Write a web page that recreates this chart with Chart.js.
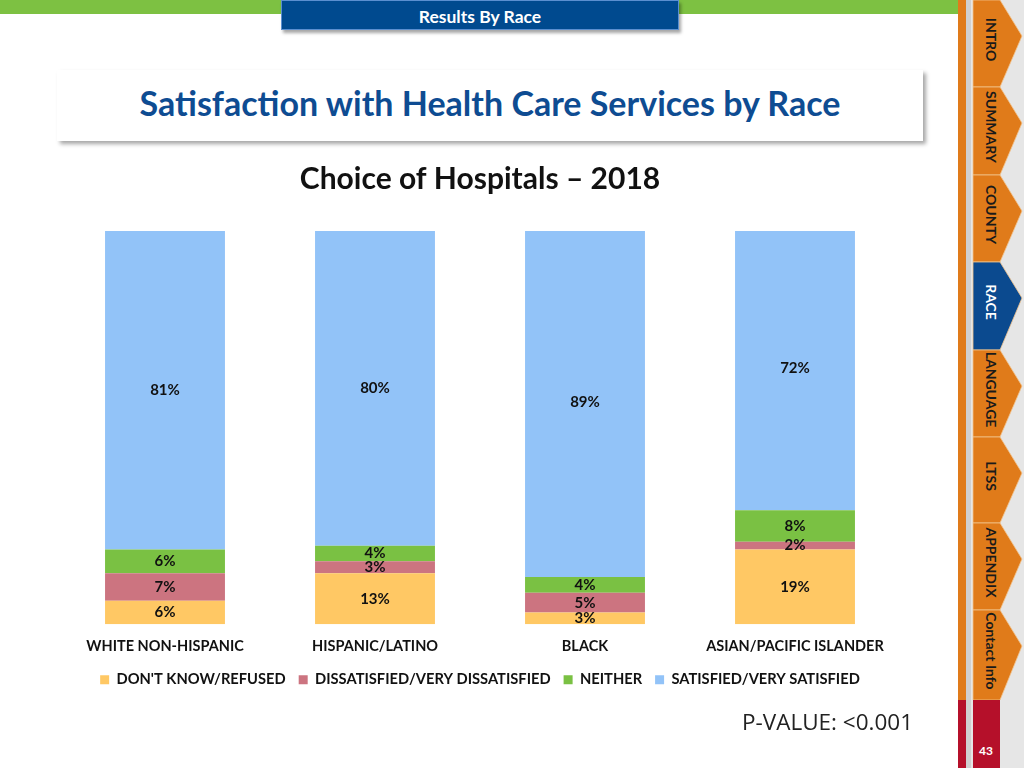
<!DOCTYPE html>
<html>
<head>
<meta charset="utf-8">
<script src="https://cdn.jsdelivr.net/npm/chart.js@4/dist/chart.umd.min.js"></script>
<style>
  html, body { margin:0; padding:0; background:#fff; }
  body { width:1024px; height:768px; position:relative; overflow:hidden; font-family: Lato, "Open Sans", sans-serif; }
  .greenbar { position:absolute; left:0; top:0; width:958px; height:14px; background:#7DC142; }
  .tab { position:absolute; left:281px; top:0; width:398px; height:30px; background:#004A8F; color:#fff;
         font: bold 17.5px Lato, sans-serif; text-align:center; line-height:31px; box-shadow: 2px 3px 3px rgba(0,0,0,0.35); border:1px solid #5b8fd0; box-sizing:border-box; }
  .titlebox { position:absolute; left:57px; top:70px; width:866px; height:71px; background:#fff;
              box-shadow: 3px 3px 4px rgba(0,0,0,0.35); }
  .titlebox div { position:absolute; left:0; width:866px; top:12px; text-align:center; color:#0E4C92; font: bold 34px Lato, sans-serif; }
  #wrap { position:absolute; left:0; top:150px; width:940px; height:560px; }
  .pval { position:absolute; left:742px; top:706px; font: 22.5px "Open Sans", sans-serif; color:#222; }
  svg.nav { position:absolute; left:940px; top:0; }
</style>
</head>
<body>
<div class="greenbar"></div>
<div class="tab">Results By Race</div>
<div class="titlebox"><div>Satisfaction with Health Care Services by Race</div></div>
<div id="wrap"><canvas id="c" width="940" height="560"></canvas></div>
<div class="pval">P-VALUE: &lt;0.001</div>
<svg class="nav" width="84" height="768" xmlns="http://www.w3.org/2000/svg">
  <rect x="28" y="0" width="56" height="768" fill="#e6e6e6"/>
  <rect x="18" y="0" width="8" height="700" fill="#E07B1A"/>
  <rect x="18" y="700" width="8" height="68" fill="#B5102A"/>
  <rect x="26" y="0" width="5" height="768" fill="#d0d0d0"/>
  <g id="tabs"></g>
  <rect x="33" y="700" width="27" height="68" fill="#B5102A"/>
  <text x="46" y="755" fill="#fff" font-family="Lato, sans-serif" font-weight="bold" font-size="12" text-anchor="middle">43</text>
</svg>
<script>
// ---- data ----
const categories = ["WHITE NON-HISPANIC", "HISPANIC/LATINO", "BLACK", "ASIAN/PACIFIC ISLANDER"];
const seriesNames = ["DON'T KNOW/REFUSED", "DISSATISFIED/VERY DISSATISFIED", "NEITHER", "SATISFIED/VERY SATISFIED"];
const dontKnow     = [6, 13, 3, 19];
const dissatisfied = [7, 3, 5, 2];
const neither      = [6, 4, 4, 8];
const satisfied    = [81, 80, 89, 72];
const navTabs = ["INTRO", "SUMMARY", "COUNTY", "RACE", "LANGUAGE", "LTSS", "APPENDIX", "Contact Info"];
const activeTab = "RACE";

// ---- nav tabs (decoration) ----
(function(){
  const g = document.getElementById('tabs');
  const ns = 'http://www.w3.org/2000/svg';
  const tops = [0, 87, 175, 262, 350, 437, 523, 610, 700];
  for (let i = 0; i < navTabs.length; i++) {
    const t = tops[i], b = tops[i+1];
    const col = navTabs[i] === activeTab ? '#0B4A8F' : '#E07B1A';
    const p = document.createElementNS(ns, 'polygon');
    p.setAttribute('points', `33,${t} 60,${t} 82,${t+36} 60,${b} 33,${b}`);
    p.setAttribute('fill', col);
    p.setAttribute('stroke', '#f3c48e');
    p.setAttribute('stroke-width', '0.8');
    g.appendChild(p);
    const tx = document.createElementNS(ns, 'text');
    const cy = (t + b) / 2 - 4;
    tx.setAttribute('x', 0); tx.setAttribute('y', 0);
    tx.setAttribute('transform', `translate(45.5,${cy}) rotate(90)`);
    tx.setAttribute('text-anchor', 'middle');
    tx.setAttribute('font-family', 'Lato, sans-serif');
    tx.setAttribute('font-weight', 'bold');
    tx.setAttribute('font-size', '14');
    tx.setAttribute('fill', navTabs[i] === activeTab ? '#fff' : '#1a1a1a');
    tx.textContent = navTabs[i];
    g.appendChild(tx);
  }
})();

// ---- chart ----
const colors = ['#FFC864', '#CC7480', '#7AC143', '#92C3F8'];
const seriesValues = [dontKnow, dissatisfied, neither, satisfied];

const labelPlugin = {
  id: 'barLabels',
  afterDatasetsDraw(chart) {
    const ctx = chart.ctx;
    ctx.save();
    ctx.font = 'bold 15px Lato, sans-serif';
    ctx.fillStyle = '#111';
    ctx.textAlign = 'center';
    ctx.textBaseline = 'middle';
    chart.data.datasets.forEach((ds, di) => {
      const meta = chart.getDatasetMeta(di);
      meta.data.forEach((el, i) => {
        const y = (el.y + el.base) / 2;
        ctx.fillText(ds.data[i] + '%', el.x, y);
      });
    });
    ctx.restore();
  }
};

new Chart(document.getElementById('c'), {
  type: 'bar',
  data: {
    labels: categories,
    datasets: seriesNames.map((n, i) => ({
      label: n,
      data: seriesValues[i],
      backgroundColor: colors[i],
      borderWidth: 0,
      categoryPercentage: 1,
      barPercentage: 0.571,
      clip: 0
    }))
  },
  options: {
    responsive: false,
    animation: false,
    layout: { padding: { left: 60, right: 40, top: 0, bottom: 13 } },
    scales: {
      x: {
        stacked: true,
        grid: { display: false, drawTicks: false },
        border: { display: false },
        ticks: { color: '#111', font: { family: 'Lato, sans-serif', weight: 'bold', size: 14.5 }, padding: 13, maxRotation: 0 },
        afterFit(scale) { scale.height = 35; }
      },
      y: {
        stacked: true, min: 0, max: 100, display: false
      }
    },
    plugins: {
      title: {
        display: true,
        text: 'Choice of Hospitals \u2013 2018',
        color: '#111',
        font: { family: 'Lato, sans-serif', weight: 'bold', size: 30, lineHeight: 1.2 },
        padding: { top: 11, bottom: 34 }
      },
      legend: {
        position: 'bottom',
        labels: {
          color: '#111',
          boxWidth: 9, boxHeight: 9, padding: 13,
          font: { family: 'Lato, sans-serif', weight: 'bold', size: 14.7 }
        }
      },
      tooltip: { enabled: false }
    }
  },
  plugins: [labelPlugin]
});
</script>
</body>
</html>
